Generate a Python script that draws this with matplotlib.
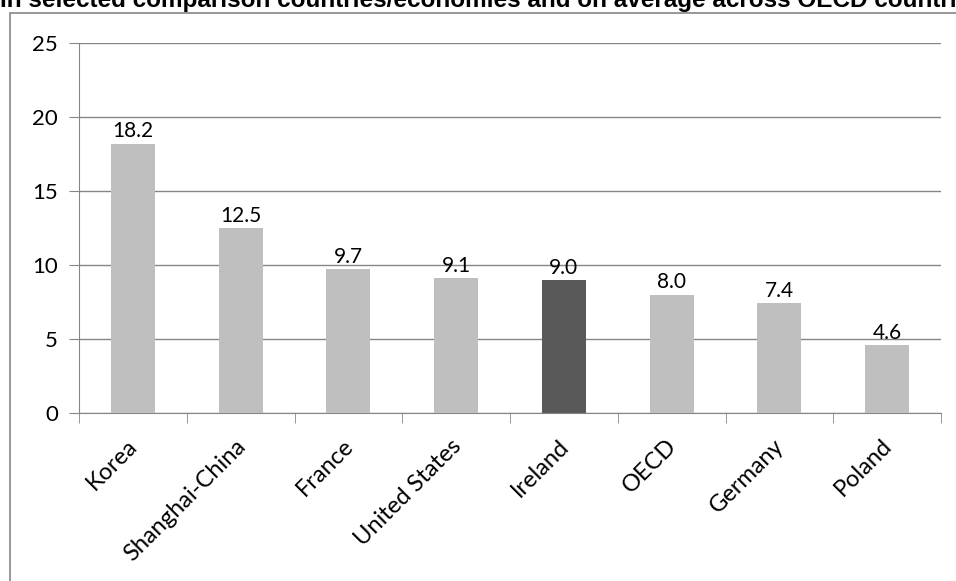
import numpy as np
import matplotlib.pyplot as plt
import matplotlib.transforms as mtransforms
from matplotlib.patches import Rectangle

countries = ["Korea", "Shanghai-China", "France", "United States", "Ireland",
             "OECD", "Germany", "Poland"]
values = [18.2, 12.5, 9.7, 9.1, 9.0, 8.0, 7.4, 4.6]
highlight = "Ireland"

plt.rcParams['font.family'] = ['Lato', 'DejaVu Sans']

fig = plt.figure(figsize=(9.56, 5.81), dpi=100)
ax = fig.add_axes([79/956, 1 - 413/581, (941 - 79)/956, (413 - 43)/581])

x = np.arange(len(countries))
colors = ["#595959" if c == highlight else "#BFBFBF" for c in countries]
ax.bar(x, values, width=0.41, color=colors, zorder=3)
for xi, v in zip(x, values):
    ax.text(xi, v + 0.15, "%.1f" % v, ha="center", va="bottom", fontsize=15)

ax.set_xlim(-0.5, len(countries) - 0.5)
ax.set_ylim(0, 25)
ax.set_yticks(range(0, 26, 5))
ax.yaxis.grid(True, color="#868686", linewidth=1, zorder=0)
ax.tick_params(axis="y", labelsize=16, length=7, color="#868686", pad=8)

ax.set_xticks(x)
ax.set_xticklabels(countries, rotation=45, ha="right", rotation_mode="anchor", fontsize=17)
ax.tick_params(axis="x", length=0, pad=16)
ax.set_xticks(np.arange(len(countries) + 1) - 0.5, minor=True)
ax.tick_params(axis="x", which="minor", length=7, color="#868686")
# nudge labels a little left, like the original
shift = mtransforms.ScaledTranslation(-6/100, 0, fig.dpi_scale_trans)
for lbl in ax.get_xticklabels():
    lbl.set_transform(lbl.get_transform() + shift)

for s in ["top", "right"]:
    ax.spines[s].set_visible(False)
for s in ["left", "bottom"]:
    ax.spines[s].set_color("#868686")

# title is clipped at the top in the original
fig.text(0.0, 1 - 7/581, "In selected comparison countries/economies and on average across OECD countries",
         fontsize=17.5, fontweight="bold", family="Liberation Sans", va="baseline", ha="left")

fig.patches.append(Rectangle((10/956, -0.1), 1.1, 1 - 13/581 + 0.1, transform=fig.transFigure,
                             fill=False, edgecolor="#868686", linewidth=1.2))

fig.savefig("out.png", dpi=100)
